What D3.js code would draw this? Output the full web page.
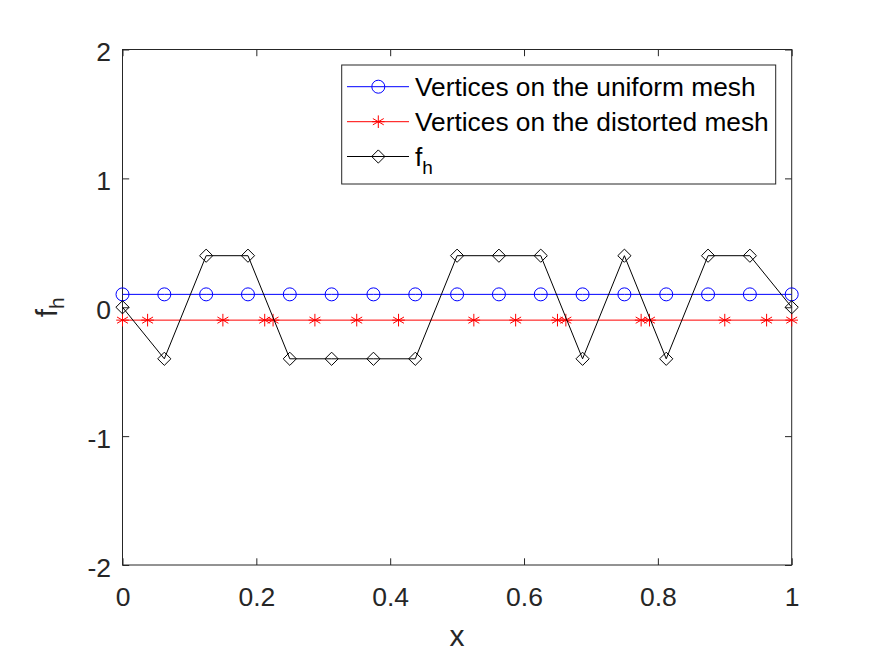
<!DOCTYPE html>
<html><head><meta charset="utf-8">
<script src="https://cdn.jsdelivr.net/npm/d3@7"></script>
<style>
html,body{margin:0;padding:0;background:#fff;}
svg{display:block;font-family:"Liberation Sans",Arial,sans-serif;}
</style></head>
<body>
<svg id="chart" width="875" height="656"></svg>
<script>
// ---- data ----
const uniformX = [0,1/16,2/16,3/16,4/16,5/16,6/16,7/16,8/16,9/16,10/16,11/16,12/16,13/16,14/16,15/16,1];
const uniformY = 0.1;
const distortedX = [0,0.0375,0.15,0.2125,0.225,0.2875,0.35,0.4125,0.525,0.5875,0.65,0.6625,0.775,0.7875,0.9,0.9625,1];
const distortedY = -0.1;
const fhX = uniformX;
const fhY = [0,-0.4,0.4,0.4,-0.4,-0.4,-0.4,-0.4,0.4,0.4,0.4,-0.4,0.4,-0.4,0.4,0.4,0];
const xTicks = [0,0.2,0.4,0.6,0.8,1];
const yTicks = [-2,-1,0,1,2];
const legendLabels = ["Vertices on the uniform mesh","Vertices on the distorted mesh","f"];

// ---- layout ----
const L = 122.5, R = 791.7, T = 49.5, B = 565;
const svg = d3.select("#chart");
const x = d3.scaleLinear().domain([0,1]).range([L,R]);
const y = d3.scaleLinear().domain([-2,2]).range([B,T]);
const axCol = "#262626";
const tickFont = 26.5;

// axes box
svg.append("rect").attr("x",L).attr("y",T).attr("width",R-L).attr("height",B-T)
  .attr("fill","#fff").attr("stroke",axCol).attr("stroke-width",1);

const tl = 6.7;
const fmt = d => String(d);
const gx = svg.append("g").attr("transform",`translate(0,${B})`)
  .call(d3.axisBottom(x).tickValues(xTicks).tickSizeInner(-tl).tickSizeOuter(0).tickPadding(22).tickFormat(fmt));
const gxt = svg.append("g").attr("transform",`translate(0,${T})`)
  .call(d3.axisTop(x).tickValues(xTicks).tickSizeInner(-tl).tickSizeOuter(0).tickFormat(""));
const gy = svg.append("g").attr("transform",`translate(${L},0)`)
  .call(d3.axisLeft(y).tickValues(yTicks).tickSizeInner(-tl).tickSizeOuter(0).tickPadding(11.5).tickFormat(fmt));
const gyr = svg.append("g").attr("transform",`translate(${R},0)`)
  .call(d3.axisRight(y).tickValues(yTicks).tickSizeInner(-tl).tickSizeOuter(0).tickFormat(""));
[gx,gxt,gy,gyr].forEach(g=>{
  g.select(".domain").remove();
  g.selectAll(".tick line").attr("stroke",axCol).attr("stroke-width",1);
  g.selectAll("text").attr("fill",axCol).attr("font-size",tickFont).attr("font-family","Liberation Sans, Arial, sans-serif");
});
gy.selectAll("text").attr("dy","0.42em");
gx.selectAll("text").attr("dy","0.72em");

// axis labels
svg.append("text").attr("x",(L+R)/2).attr("y",646).attr("text-anchor","middle")
  .attr("font-size",30).attr("fill",axCol).text("x");
const yl = svg.append("text").attr("transform",`translate(57,${(T+B)/2}) rotate(-90)`)
  .attr("text-anchor","middle").attr("font-size",30).attr("fill",axCol);
yl.append("tspan").text("f");
yl.append("tspan").attr("font-size",21).attr("dy",7).text("h");

// ---- markers ----
function circle(g,cx,cy){ g.append("circle").attr("cx",cx).attr("cy",cy).attr("r",6.5)
  .attr("fill","none").attr("stroke","#0000ff").attr("stroke-width",1); }
function star(g,cx,cy){
  const s=6.3, a=Math.PI/6;
  const p = `M${cx},${cy-s}L${cx},${cy+s}` +
    `M${cx-s*Math.cos(a)},${cy-s*Math.sin(a)}L${cx+s*Math.cos(a)},${cy+s*Math.sin(a)}` +
    `M${cx-s*Math.cos(a)},${cy+s*Math.sin(a)}L${cx+s*Math.cos(a)},${cy-s*Math.sin(a)}` +
    `M${cx-s},${cy}L${cx+s},${cy}`;
  g.append("path").attr("d",p).attr("stroke","#ff0000").attr("stroke-width",1).attr("fill","none");
}
function diamond(g,cx,cy){
  const s=6.6;
  g.append("path").attr("d",`M${cx},${cy-s}L${cx+s},${cy}L${cx},${cy+s}L${cx-s},${cy}Z`)
    .attr("fill","none").attr("stroke","#000").attr("stroke-width",1);
}

const line = d3.line().x(d=>x(d[0])).y(d=>y(d[1]));
const plot = svg.append("g");
// uniform
plot.append("path").attr("d",line(uniformX.map(v=>[v,uniformY]))).attr("fill","none").attr("stroke","#0000ff").attr("stroke-width",1);
uniformX.forEach(v=>circle(plot,x(v),y(uniformY)));
// distorted
plot.append("path").attr("d",line(distortedX.map(v=>[v,distortedY]))).attr("fill","none").attr("stroke","#ff0000").attr("stroke-width",1);
distortedX.forEach(v=>star(plot,x(v),y(distortedY)));
// f_h
plot.append("path").attr("d",line(fhX.map((v,i)=>[v,fhY[i]]))).attr("fill","none").attr("stroke","#000").attr("stroke-width",1);
fhX.forEach((v,i)=>diamond(plot,x(v),y(fhY[i])));

// ---- legend ----
const lg = svg.append("g");
lg.append("rect").attr("x",341.7).attr("y",65).attr("width",434).attr("height",119)
  .attr("fill","#fff").attr("stroke",axCol).attr("stroke-width",1);
const rows = [86.7,121.7,156.5];
const cols = ["#0000ff","#ff0000","#000"];
const mk = [circle,star,diamond];
rows.forEach((ry,i)=>{
  lg.append("line").attr("x1",347).attr("x2",409).attr("y1",ry).attr("y2",ry).attr("stroke",cols[i]).attr("stroke-width",1);
  mk[i](lg,378.3,ry);
  const t = lg.append("text").attr("x",415).attr("y",ry+9.5).attr("font-size",26.3).attr("fill","#000");
  t.append("tspan").text(legendLabels[i]);
  if(i===2) t.append("tspan").attr("font-size",19).attr("dy",8).text("h");
});
</script>
</body></html>
